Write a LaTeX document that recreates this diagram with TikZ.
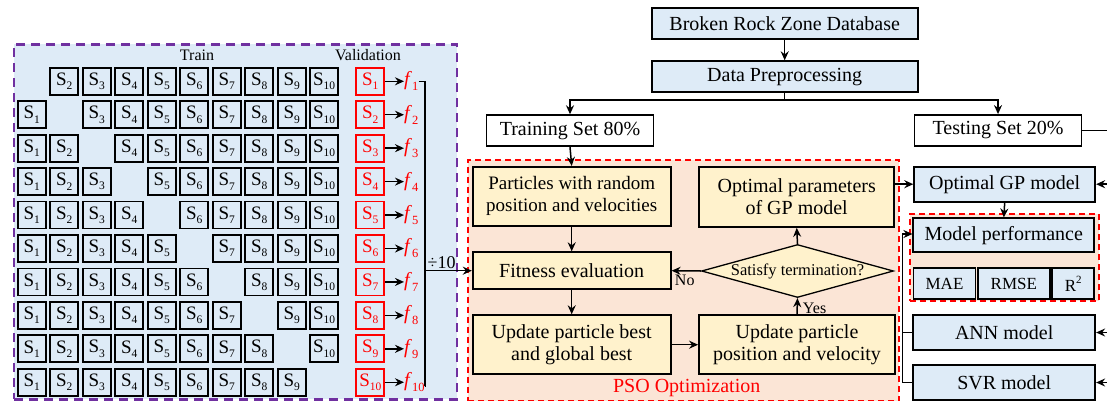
\documentclass[tikz,border=0pt]{standalone}
\usepackage{fontspec}
\setmainfont{Liberation Serif}
\usetikzlibrary{arrows.meta,shapes.geometric,calc}
\definecolor{paleblue}{RGB}{222,235,247}
\definecolor{paleyellow}{RGB}{255,242,204}
\definecolor{palepeach}{RGB}{251,229,214}
\definecolor{zonepurple}{RGB}{112,48,160}
% subset label S_n and fold score f_n
\newcommand{\Ss}[1]{S\raisebox{-0.22em}{\fontsize{11.5}{11.5}\selectfont #1}}
\newcommand{\flab}[1]{\textit{f}\raisebox{-0.25em}{\fontsize{12.5}{12.5}\selectfont #1}}
\begin{document}
\begin{tikzpicture}[x=1pt,y=-1pt,
  box/.style={draw, line width=1.8pt, inner sep=0pt, align=center,
    font=\fontsize{20}{22}\selectfont},
  bluebox/.style={box, fill=paleblue},
  yelbox/.style={box, fill=paleyellow},
  whitebox/.style={box, fill=white},
  smallbox/.style={bluebox, font=\fontsize{17}{19}\selectfont},
  cell/.style={draw, line width=1.7pt, fill=paleblue, minimum width=28pt,
    minimum height=27pt, inner sep=0pt, font=\fontsize{19}{19}\selectfont},
  vcell/.style={cell, draw=red, text=red},
  arr/.style={-{Stealth[length=9pt,width=8pt,inset=3pt]}, line width=1.5pt},
  link/.style={line width=1.5pt},
  redzone/.style={draw=red, fill=palepeach, line width=1.6pt,
    dash pattern=on 6pt off 4pt, inner sep=0pt},
  purplezone/.style={draw=zonepurple, fill=paleblue, line width=2.6pt,
    dash pattern=on 9pt off 6pt, inner sep=0pt},
  lbl/.style={font=\fontsize{16}{18}\selectfont, inner sep=1pt}]
\useasboundingbox (0,0) rectangle (1107,401);
\clip (0,0) rectangle (1107,401);

% ---------------- 10-fold cross validation ----------------
\node[purplezone, anchor=north west, minimum width=443pt, minimum height=355pt]
  (cv) at (12.7,43) {};
\node[lbl] (trainlbl) at (197,55) {Train};
\node[lbl] (vallbl) at (368,55) {Validation};

\foreach \i in {1,...,10}{
  \foreach \j in {1,...,10}{
    \ifnum\i=\j\relax\else
      \node[cell] (s\i-\j) at ({31.7+32.5*(\j-1)},{81.3+33.44*(\i-1)}) {\Ss{\j}};
    \fi
  }
  \node[vcell] (v\i) at (370.3,{81.3+33.44*(\i-1)}) {\Ss{\i}};
  \node[anchor=west, inner sep=0pt, text=red, font=\fontsize{20}{20}\selectfont]
    (f\i) at (404,{81.3+33.44*(\i-1)}) {\flab{\i}};
  \draw[arr] (v\i.east) -- (f\i.west);
}

% averaging bracket
\coordinate (bt) at (425,81.3);
\coordinate (bb) at (425,386);
\draw[link] (f1.east) -- (bt) -- (bb) -- (bb -| f10.east);

% ---------------- PSO optimisation ----------------
\node[redzone, anchor=north west, minimum width=431pt, minimum height=241pt]
  (pso) at (467.3,159.3) {};
\node[text=red, font=\fontsize{20}{22}\selectfont, inner sep=0pt] (psolbl)
  at (686.7,388) {PSO Optimization};

\node[yelbox, minimum width=198pt, minimum height=59pt, font=\fontsize{19}{22}\selectfont]
  (part) at (571.7,196.3) {Particles with random\\position and velocities};
\node[yelbox, minimum width=198pt, minimum height=37pt] (fit) at (571.7,270.7)
  {Fitness evaluation};
\node[yelbox, minimum width=198pt, minimum height=59pt] (ubest) at (571.7,344.7)
  {Update particle best\\and global best};
\node[yelbox, minimum width=195pt, minimum height=60pt] (optp) at (796.7,197)
  {Optimal parameters\\of GP model};
\node[yelbox, minimum width=196pt, minimum height=59pt] (upos) at (797,344.7)
  {Update particle\\position and velocity};
\node[draw, diamond, fill=paleyellow, line width=1.3pt, inner sep=0pt,
  shape aspect=3.6, minimum width=192pt, minimum height=53pt,
  font=\fontsize{16.5}{18}\selectfont] (dia) at (797.5,271) {Satisfy termination?};

\draw[arr] (bt |- fit.west) -- node[pos=0.02, above right, inner sep=1pt,
  font=\fontsize{18}{18}\selectfont] {÷10} (fit.west);
\draw[arr] (part.south) -- (fit.north);
\draw[arr] (fit.south) -- (ubest.north);
\draw[arr] (ubest.east) -- (upos.west);
\draw[arr] (upos.north) -- node[right, lbl, pos=0.4, xshift=4pt] {Yes} (dia.south);
\draw[arr] (dia.west) -- node[below, lbl, pos=0.55, yshift=-2pt] {No} (fit.east);
\draw[arr] (dia.north) -- (optp.south);

% ---------------- data preparation ----------------
\node[bluebox, minimum width=266pt, minimum height=31pt] (db) at (784.7,23.8)
  {Broken Rock Zone Database};
\node[bluebox, minimum width=266pt, minimum height=31pt] (prep) at (784.7,76.7)
  {Data Preprocessing};
\node[whitebox, minimum width=167pt, minimum height=31pt] (train) at (570,130.7)
  {Training Set 80\%};
\node[whitebox, minimum width=167pt, minimum height=31pt] (test) at (998,130.5)
  {Testing Set 20\%};
\draw[arr] (db.south) -- (prep.north);
\draw[link] (prep.south) -- ++(0,7) coordinate (split);
\draw[arr] (split) -| (train.north);
\draw[arr] (split) -| (test.north);
\draw[arr] (train.south) -- (part.north);

% ---------------- evaluation ----------------
\node[bluebox, minimum width=181pt, minimum height=35pt] (gp) at (1004.7,184.2)
  {Optimal GP model};
\node[redzone, anchor=north west, minimum width=189pt, minimum height=87pt]
  (perfzone) at (909.3,213.3) {};
\node[bluebox, minimum width=181pt, minimum height=34pt] (perf) at (1003.8,235.3)
  {Model performance};
\node[smallbox, minimum width=62pt, minimum height=31pt] (mae) at (944.5,283.8) {MAE};
\node[smallbox, minimum width=72pt, minimum height=31pt] (rmse) at (1013.8,283.8) {RMSE};
\node[smallbox, minimum width=42pt, minimum height=31pt] (rtwo) at (1073.3,283.8)
  {R\raisebox{0.42em}{\fontsize{11}{11}\selectfont 2}};
\node[bluebox, minimum width=182pt, minimum height=35pt] (ann) at (1004.2,332.5)
  {ANN model};
\node[bluebox, minimum width=182pt, minimum height=35pt] (svr) at (1004.2,382.5)
  {SVR model};

\draw[arr] (optp.east |- gp.west) -- (gp.west);
\draw[arr] (gp.south) -- (perf.north);
\coordinate (lbus) at (902.3,234);
\draw[arr] (svr.west) -| (lbus) -- (lbus -| perf.west);
\draw[link] (ann.west) -- (ann.west -| lbus);

% test data fed to every model
\coordinate (rbus) at (1118,130.5);
\draw[link] (test.east) -- (rbus) -- (rbus |- svr.east);
\draw[arr] (rbus |- gp.east) -- (gp.east);
\draw[arr] (rbus |- ann.east) -- (ann.east);
\draw[arr] (rbus |- svr.east) -- (svr.east);
\end{tikzpicture}
\end{document}
